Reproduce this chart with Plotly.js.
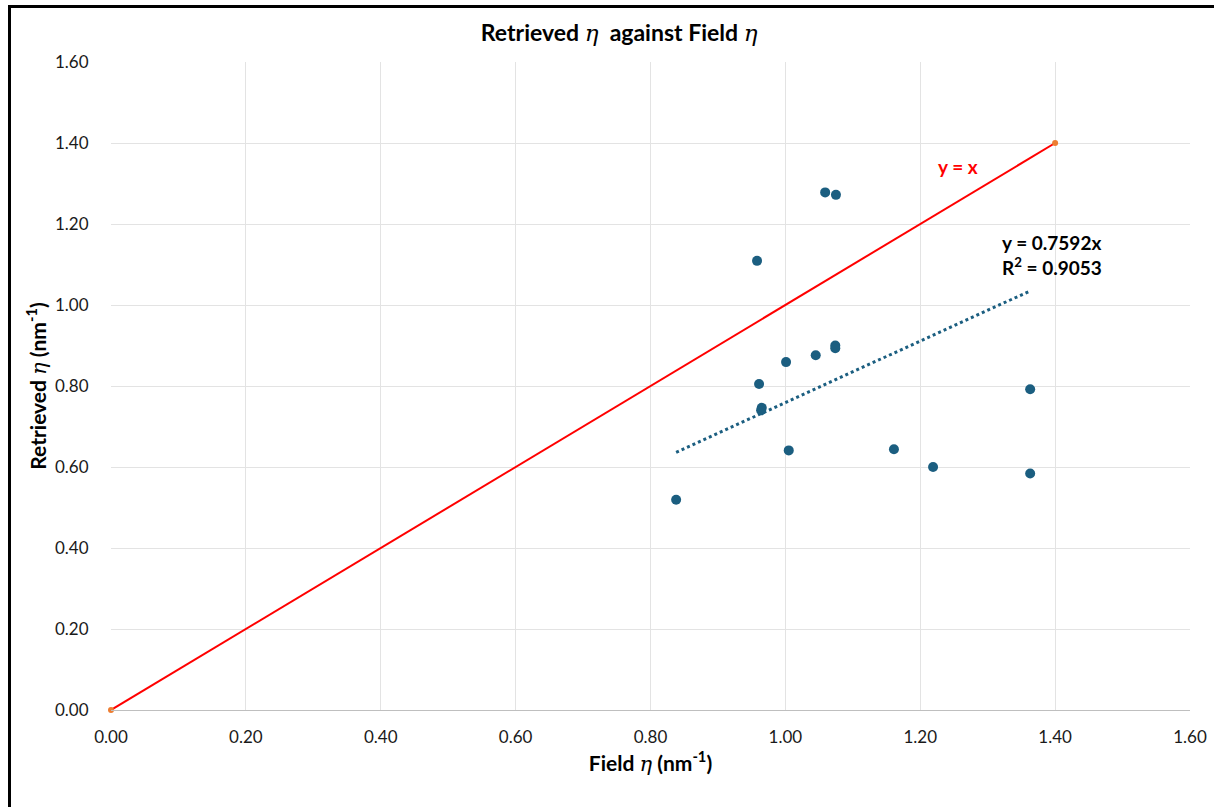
<!DOCTYPE html>
<html>
<head>
<meta charset="utf-8">
<script src="https://cdn.plot.ly/plotly-3.0.1.min.js"></script>
<style>
  html, body { margin: 0; padding: 0; background: #fff; }
  #wrap { position: relative; width: 1214px; height: 807px; overflow: hidden; }
  #chart { position: absolute; left: 0; top: 0; width: 1214px; height: 807px; }
  #frame { position: absolute; left: 8px; top: 5px; width: 1220px; height: 820px;
           border-left: 3px solid #000; border-top: 3px solid #000; pointer-events: none; }
</style>
</head>
<body>
<div id="wrap">
  <div id="chart"></div>
  <div id="frame"></div>
</div>
<script>
// Field eta (x) and retrieved eta (y)
const fieldEta = [1.059, 1.075, 0.958, 1.001, 1.045, 1.074, 1.074, 0.961, 0.965, 0.964, 1.005, 1.161, 1.219, 0.838, 1.363, 1.363];
const retrievedEta = [1.278, 1.272, 1.109, 0.859, 0.876, 0.900, 0.893, 0.805, 0.746, 0.740, 0.641, 0.644, 0.600, 0.519, 0.792, 0.584];
// 1:1 reference line end points
const oneToOneX = [0, 1.4];
const oneToOneY = [0, 1.4];
// Trendline through origin
const trendSlope = 0.7592;
const trendR2 = 0.9053;
const tickVals = [0, 0.2, 0.4, 0.6, 0.8, 1.0, 1.2, 1.4, 1.6];
const tickText = ["0.00", "0.20", "0.40", "0.60", "0.80", "1.00", "1.20", "1.40", "1.60"];

const xMin = Math.min(...fieldEta), xMax = Math.max(...fieldEta);
const trendX = [xMin, xMax];
const trendY = trendX.map(v => v * trendSlope);

const ETA = "<span style=\"font-family:'DejaVu Serif';font-style:italic;font-weight:normal\">η</span>";
const FONT = "Lato, 'Open Sans', sans-serif";

const traces = [
  {
    x: oneToOneX, y: oneToOneY, type: 'scatter', mode: 'lines+markers',
    line: { color: '#FF0000', width: 2 },
    marker: { color: '#ED7D31', size: 6 },
    cliponaxis: false,
    hoverinfo: 'skip', showlegend: false
  },
  {
    x: trendX, y: trendY, type: 'scatter', mode: 'lines',
    line: { color: '#1B5E80', width: 3, dash: 'dot' },
    hoverinfo: 'skip', showlegend: false
  },
  {
    x: fieldEta, y: retrievedEta, type: 'scatter', mode: 'markers',
    marker: { color: '#1B5E80', size: 10 },
    showlegend: false
  }
];

const axisCommon = {
  range: [0, 1.6], autorange: false,
  tickvals: tickVals, ticktext: tickText,
  showgrid: true, gridcolor: '#E3E3E3', gridwidth: 1,
  zeroline: false,
  tickfont: { family: FONT, size: 17, color: '#1a1a1a' },
  ticks: 'outside', tickcolor: 'rgba(0,0,0,0)',
  fixedrange: true
};

const layout = {
  width: 1214, height: 807,
  margin: { l: 111, r: 24, t: 62, b: 97 },
  paper_bgcolor: 'rgba(0,0,0,0)', plot_bgcolor: '#fff',
  font: { family: FONT, color: '#000' },
  title: {
    text: '<b>Retrieved ' + ETA + '  against Field ' + ETA + '</b>',
    font: { family: FONT, size: 23, color: '#000' },
    x: 0.51, xref: 'container', xanchor: 'center',
    y: 1 - 33 / 807, yref: 'container', yanchor: 'middle'
  },
  xaxis: Object.assign({}, axisCommon, {
    ticklen: 12,
    showline: true, linecolor: '#BFBFBF', linewidth: 1, mirror: false,
    title: { text: '<b>Field ' + ETA + ' (nm<sup>-1</sup>)</b>', font: { family: FONT, size: 21, color: '#000' }, standoff: 8 }
  }),
  yaxis: Object.assign({}, axisCommon, {
    ticklen: 18,
    showline: false,
    title: { text: '<b>Retrieved ' + ETA + ' (nm<sup>-1</sup>)</b>', font: { family: FONT, size: 21, color: '#000' }, standoff: 2 }
  }),
  annotations: [
    {
      x: 1.256, y: 1.341, xref: 'x', yref: 'y', showarrow: false,
      text: '<b>y = x</b>', font: { family: FONT, size: 19, color: '#FF0000' },
      xanchor: 'center', yanchor: 'middle'
    },
    {
      x: 1.318, y: 1.123, xref: 'x', yref: 'y', showarrow: false, align: 'left',
      text: '<b>y = ' + trendSlope.toFixed(4) + 'x<br>R<sup>2</sup> = ' + trendR2.toFixed(4) + '</b>',
      font: { family: FONT, size: 19, color: '#000' },
      xanchor: 'left', yanchor: 'middle'
    }
  ]
};

Plotly.newPlot('chart', traces, layout, { displayModeBar: false, staticPlot: true });
</script>
</body>
</html>
